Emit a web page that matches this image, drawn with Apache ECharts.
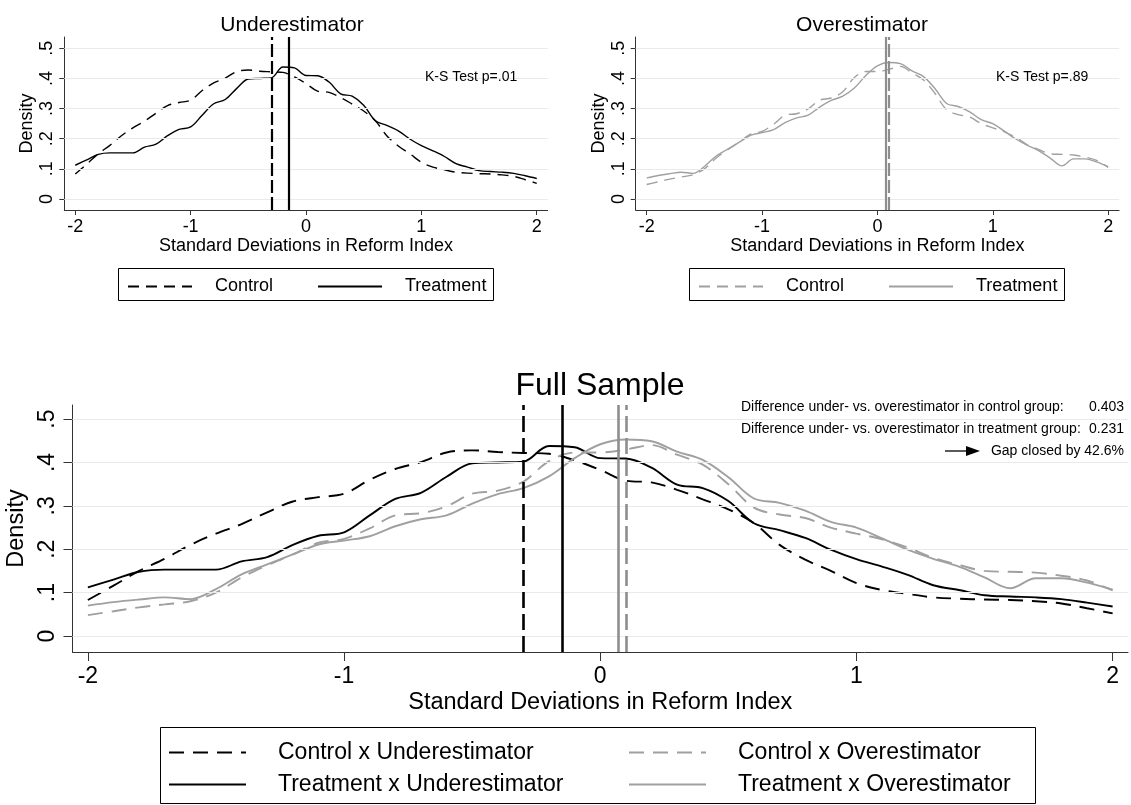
<!DOCTYPE html>
<html>
<head>
<meta charset="utf-8">
<script src="https://cdn.jsdelivr.net/npm/echarts@6/dist/echarts.min.js"></script>
<style>
html,body{margin:0;padding:0;background:#fff;}
#chart{width:1131px;height:805px;}
</style>
</head>
<body>
<div id="chart"></div>
<script>
// ---------------- data ----------------
const xs = [-2.0,-1.9,-1.8,-1.7,-1.6,-1.5,-1.4,-1.3,-1.2,-1.1,-1.0,
            -0.9,-0.8,-0.7,-0.6,-0.5,-0.4,-0.3,-0.2,-0.1,0.0,
             0.1,0.2,0.3,0.4,0.5,0.6,0.7,0.8,0.9,1.0,
             1.1,1.2,1.3,1.4,1.5,1.6,1.7,1.8,1.9,2.0];
const controlUnder = [.083,.116,.150,.178,.210,.236,.258,.285,.310,.320,.328,
                      .360,.385,.401,.423,.428,.424,.422,.420,.405,.383,
                      .358,.354,.337,.315,.292,.260,.210,.176,.150,.122,
                      .106,.097,.089,.086,.084,.083,.080,.075,.064,.052];
const treatmentUnder = [.112,.130,.148,.153,.153,.153,.172,.182,.210,.231,.239,
                        .278,.316,.330,.367,.398,.400,.402,.438,.435,.410,
                        .409,.388,.349,.341,.311,.260,.244,.226,.199,.177,
                        .160,.141,.117,.106,.094,.091,.089,.085,.077,.068];
const controlOver = [.048,.057,.066,.073,.080,.100,.135,.163,.188,.215,.224,
                     .248,.278,.283,.299,.328,.335,.356,.403,.423,.423,
                     .430,.440,.418,.395,.350,.296,.280,.272,.250,.236,
                     .223,.204,.180,.164,.150,.148,.146,.139,.128,.105];
const treatmentOver = [.070,.078,.084,.089,.085,.108,.142,.165,.188,.211,.220,
                       .230,.253,.269,.278,.305,.327,.341,.368,.410,.442,
                       .453,.449,.425,.406,.366,.317,.307,.289,.263,.250,
                       .225,.199,.178,.160,.135,.110,.133,.133,.123,.107];
// group means (vertical lines)
const meanControlUnder = -0.30;
const meanTreatmentUnder = -0.155;
const meanTreatmentOver = 0.075;
const meanControlOver = 0.097;
const yTicks = [0, 0.1, 0.2, 0.3, 0.4, 0.5];
const xTicks = [-2, -1, 0, 1, 2];
const panelTitles = ['Underestimator', 'Overestimator', 'Full Sample'];
const ksTexts = ['K-S Test p=.01', 'K-S Test p=.89'];
const diffLabels = ['Difference under- vs. overestimator in control group:',
                    'Difference under- vs. overestimator in treatment group:'];
const diffValues = ['0.403', '0.231'];
const gapText = 'Gap closed by 42.6%';
const xTitle = 'Standard Deviations in Reform Index';
const yTitle = 'Density';

// ---------------- style ----------------
const FONT = '"Liberation Sans", Arial, Helvetica, sans-serif';
const BLACK = '#000000';
const GRAY = '#a0a0a0';
const GRAYMEAN = '#8e8e8e';
const GRIDC = '#e4ecf0';
const AXISC = '#333333';

const pairs = arr => xs.map((x, i) => [x, arr[i]]);
const yFmt = v => { const r = Math.round(v * 10) / 10; return r === 0 ? '0' : String(r).replace(/^0\./, '.'); };

const panels = [
  { left: 64.3, top: 37, width: 483.4, height: 173, xmin: -2.095, xmax: 2.095, ymin: -0.0365, ymax: 0.5375,
    tick: 18, tickLen: 5, lblMargin: 8, ylblMargin: 8, nameGap: 22, yNameGap: 28, small: true },
  { left: 635.7, top: 37, width: 483.4, height: 173, xmin: -2.095, xmax: 2.095, ymin: -0.0365, ymax: 0.5375,
    tick: 18, tickLen: 5, lblMargin: 8, ylblMargin: 8, nameGap: 22, yNameGap: 28, small: true },
  { left: 72.5, top: 405, width: 1055.5, height: 247, xmin: -2.06, xmax: 2.06, ymin: -0.0369, ymax: 0.5325,
    tick: 23, tickLen: 9, lblMargin: 13, ylblMargin: 13, nameGap: 39, yNameGap: 30, small: false }
];

const grids = panels.map(p => ({ left: p.left, top: p.top, width: p.width, height: p.height,
  containLabel: false, outerBoundsMode: 'none' }));
const xAxes = panels.map((p, i) => ({
  type: 'value', gridIndex: i, min: p.xmin, max: p.xmax,
  name: xTitle, nameLocation: 'middle', nameGap: p.nameGap,
  nameTextStyle: { fontFamily: FONT, fontSize: p.small ? 18 : 23.5, color: '#000' },
  axisLine: { show: true, onZero: false, lineStyle: { color: AXISC, width: 1 } },
  axisTick: { show: true, length: p.tickLen, lineStyle: { color: AXISC }, customValues: xTicks },
  axisLabel: { fontFamily: FONT, fontSize: p.tick, color: '#000', margin: p.lblMargin, customValues: xTicks,
               formatter: v => String(Math.round(v)) },
  splitLine: { show: false }
}));
const yAxes = panels.map((p, i) => ({
  type: 'value', gridIndex: i, min: p.ymin, max: p.ymax,
  name: yTitle, nameLocation: 'middle', nameGap: p.yNameGap, nameRotate: 90,
  nameTextStyle: { fontFamily: FONT, fontSize: p.small ? 18 : 23.5, color: '#000' },
  axisLine: { show: true, onZero: false, lineStyle: { color: AXISC, width: 1 } },
  axisTick: { show: true, length: p.tickLen, lineStyle: { color: AXISC }, customValues: yTicks },
  axisLabel: { fontFamily: FONT, fontSize: p.tick, color: '#000', rotate: 90, margin: p.ylblMargin,
               customValues: yTicks, formatter: yFmt },
  splitLine: { show: false }
}));

function gridLineSeries(i) {
  return {
    type: 'line', name: 'grid' + i, xAxisIndex: i, yAxisIndex: i, data: [], z: 1, silent: true,
    markLine: { silent: true, symbol: ['none', 'none'], label: { show: false }, animation: false,
      lineStyle: { color: GRIDC, width: 1.2, type: 'solid' },
      data: yTicks.map(v => ({ yAxis: v })) }
  };
}
function curve(name, i, arr, color, dashed, mean, small) {
  const w = small ? 1.4 : 1.9;
  return {
    type: 'line', name: name, xAxisIndex: i, yAxisIndex: i, data: pairs(arr),
    smooth: 0.35, symbol: 'none', z: 3, silent: true,
    lineStyle: { color: color, width: w, type: dashed ? (small ? [11, 7] : [15, 9]) : 'solid' },
    itemStyle: { color: color },
    markLine: { silent: true, symbol: ['none', 'none'], label: { show: false }, animation: false,
      lineStyle: { color: color === GRAY ? GRAYMEAN : color, width: small ? 2.2 : 2.6,
                   type: dashed ? (small ? [13, 4] : [16, 6]) : 'solid' },
      data: [{ xAxis: mean }] }
  };
}

const series = [
  gridLineSeries(0), gridLineSeries(1), gridLineSeries(2),
  curve('Control|U', 0, controlUnder, BLACK, true, meanControlUnder, true),
  curve('Treatment|U', 0, treatmentUnder, BLACK, false, meanTreatmentUnder, true),
  curve('Control|O', 1, controlOver, GRAY, true, meanControlOver, true),
  curve('Treatment|O', 1, treatmentOver, GRAY, false, meanTreatmentOver, true),
  curve('Control x Underestimator', 2, controlUnder, BLACK, true, meanControlUnder, false),
  curve('Treatment x Underestimator', 2, treatmentUnder, BLACK, false, meanTreatmentUnder, false),
  curve('Control x Overestimator', 2, controlOver, GRAY, true, meanControlOver, false),
  curve('Treatment x Overestimator', 2, treatmentOver, GRAY, false, meanTreatmentOver, false)
];

const legendBase = (left, top, data, opts) => Object.assign({
  left: left, top: top, data: data, selectedMode: false, orient: 'horizontal', padding: 0,
  formatter: n => n.split('|')[0],
  itemWidth: 64, itemHeight: 14, itemGap: 44,
  itemStyle: { opacity: 0 },
  textStyle: { fontFamily: FONT, fontSize: 18, color: '#000', padding: [0, 0, 0, 18] }
}, opts || {});

const bigLegend = { orient: 'vertical', itemWidth: 77, itemHeight: 16, itemGap: 9, height: 90,
  textStyle: { fontFamily: FONT, fontSize: 23, color: '#000', padding: [0, 0, 0, 27] } };
const legends = [
  legendBase(127, 277.5, ['Control|U', 'Treatment|U']),
  legendBase(698, 277.5, ['Control|O', 'Treatment|O']),
  legendBase(168, 741, ['Control x Underestimator', 'Treatment x Underestimator'], bigLegend),
  legendBase(628, 741, ['Control x Overestimator', 'Treatment x Overestimator'], bigLegend)
];

const titles = [
  { text: panelTitles[0], left: 287, top: 10, textAlign: 'center',
    textStyle: { fontFamily: FONT, fontSize: 21, fontWeight: 'normal', color: '#000' } },
  { text: panelTitles[1], left: 857, top: 10, textAlign: 'center',
    textStyle: { fontFamily: FONT, fontSize: 21, fontWeight: 'normal', color: '#000' } },
  { text: panelTitles[2], left: 595, top: 365, textAlign: 'center',
    textStyle: { fontFamily: FONT, fontSize: 32, fontWeight: 'normal', color: '#000' } }
];

const txt = (x, y, text, size, align) => ({
  type: 'text', x: x, y: y, silent: true, z: 10,
  style: { text: text, font: size + 'px ' + FONT, fill: '#000',
           align: align || 'left', verticalAlign: 'middle', textAlign: align || 'left', textVerticalAlign: 'middle' }
});

const graphics = [
  { type: 'rect', shape: { x: 118.5, y: 268.5, width: 375, height: 32 }, style: { fill: 'none', stroke: '#000', lineWidth: 1 }, silent: true },
  { type: 'rect', shape: { x: 689.5, y: 268.5, width: 375, height: 32 }, style: { fill: 'none', stroke: '#000', lineWidth: 1 }, silent: true },
  { type: 'rect', shape: { x: 160.5, y: 727.5, width: 875, height: 76 }, style: { fill: 'none', stroke: '#000', lineWidth: 1 }, silent: true },
  txt(425, 77, ksTexts[0], 14),
  txt(996, 77, ksTexts[1], 14),
  txt(741, 407, diffLabels[0], 14),
  txt(1124, 407, diffValues[0], 14, 'right'),
  txt(741, 429, diffLabels[1], 14),
  txt(1124, 429, diffValues[1], 14, 'right'),
  txt(1124, 451, gapText, 14, 'right'),
  { type: 'line', shape: { x1: 945, y1: 451, x2: 968, y2: 451 }, style: { stroke: '#000', lineWidth: 1.3 }, silent: true },
  { type: 'polygon', shape: { points: [[966, 446], [980, 451], [966, 456]] }, style: { fill: '#000' }, silent: true }
];

const chart = echarts.init(document.getElementById('chart'), null, { renderer: 'canvas' });
chart.setOption({
  animation: false,
  backgroundColor: '#ffffff',
  title: titles,
  grid: grids,
  xAxis: xAxes,
  yAxis: yAxes,
  legend: legends,
  series: series,
  graphic: graphics
});
</script>
</body>
</html>
